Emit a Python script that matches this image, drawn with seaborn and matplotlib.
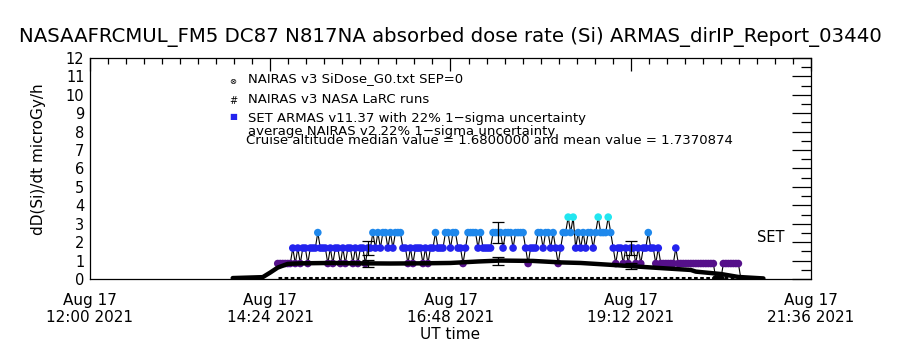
import numpy as np
import pandas as pd
import matplotlib
matplotlib.use("Agg")
import matplotlib.pyplot as plt
import matplotlib.dates as mdates
from matplotlib.ticker import FixedLocator, FuncFormatter, MultipleLocator
import seaborn as sns

DAY = "2021-08-17"

# NAIRAS v3 SiDose_G0 model dose rate along the flight track (microGy/h)
nairas_time = ["13:54", "14:18", "14:24", "14:30", "14:38", "14:48", "15:12", "15:36",
               "16:00", "16:24", "16:48", "17:10", "17:28", "17:54", "18:16", "18:32",
               "18:58", "19:16", "19:34", "20:00", "20:04", "20:24", "20:38", "20:58"]
nairas_dose = [0.05, 0.10, 0.35, 0.62, 0.82, 0.85, 0.87, 0.85,
               0.84, 0.85, 0.87, 0.95, 1.00, 0.98, 0.90, 0.87,
               0.76, 0.68, 0.60, 0.49, 0.40, 0.27, 0.11, 0.03]

# NAIRAS v3 NASA LaRC runs
larc_time = ["14:30", "15:30", "16:30", "17:30", "18:30", "19:30", "20:30", "20:58"]
larc_dose = [0.04, 0.04, 0.04, 0.04, 0.04, 0.04, 0.04, 0.04]

# SET ARMAS v11.37 absorbed dose rate, one record every 2 minutes from 14:30
armas_start = "14:30"
armas_step_min = 2
armas_dose = [
    0.84, 0.84, 0.84, 0.84, 0.84, 0.84, 1.68, 0.84, 1.68, 0.84,
    1.68, 1.68, 0.84, 1.68, 1.68, 1.68, 2.52, 1.68, 1.68, 1.68,
    0.84, 1.68, 0.84, 1.68, 1.68, 0.84, 1.68, 0.84, 1.68, 1.68,
    0.84, 1.68, 0.84, 1.68, 1.68, 0.84, 1.68, 1.68, 2.52, 1.68,
    2.52, 1.68, 2.52, 2.52, 1.68, 2.52, 1.68, 2.52, 2.52, 2.52,
    1.68, 1.68, 0.84, 1.68, 0.84, 1.68, 1.68, 1.68, 0.84, 1.68,
    0.84, 1.68, 1.68, 2.52, 1.68, 1.68, 1.68, 2.52, 2.52, 1.68,
    2.52, 2.52, 1.68, 1.68, 0.84, 1.68, 2.52, 2.52, 2.52, 2.52,
    1.68, 2.52, 1.68, 1.68, 1.68, 1.68, 2.52, 2.52, 2.52, 2.52,
    1.68, 2.52, 2.52, 2.52, 1.68, 2.52, 2.52, 2.52, 2.52, 1.68,
    0.84, 1.68, 1.68, 1.68, 2.52, 2.52, 1.68, 2.52, 2.52, 1.68,
    2.52, 1.68, 0.84, 1.68, 2.52, 2.52, 3.36, 2.52, 3.36, 1.68,
    2.52, 1.68, 2.52, 1.68, 2.52, 2.52, 1.68, 2.52, 3.36, 2.52,
    2.52, 2.52, 3.36, 2.52, 1.68, 0.84, 1.68, 1.68, 0.84, 1.68,
    0.84, 1.68, 1.68, 0.84, 1.68, 0.84, 1.68, 1.68, 2.52, 1.68,
    1.68, 0.84, 1.68, 0.84, 0.84, 0.84, 0.84, 0.84, 0.84, 1.68,
    0.84, 0.84, 0.84, 0.84, 0.84, 0.84, 0.84, 0.84, 0.84, 0.84,
    0.84, 0.84, 0.84, 0.84, 0.84, 0.00, 0.00, 0.00, 0.84, 0.84,
    0.84, 0.84, 0.84, 0.84, 0.84, 0.00,
]

# 1-sigma uncertainty markers (22 %)
err_time = ["15:42", "17:26", "19:12"]
err_armas = [1.68, 2.52, 1.68]
err_nairas = [0.85, 1.00, 0.70]
rel_sigma = 0.22

level_name = {0.00: "0", 0.84: "1", 1.68: "2", 2.52: "3", 3.36: "4"}
level_color = {"0": "#000000", "1": "#55108a", "2": "#2323ee",
               "3": "#1e88ec", "4": "#22e6f0"}

x_start = pd.Timestamp(f"{DAY} 12:00")
x_major_step = pd.Timedelta(minutes=144)


def stamp(hm):
    return pd.Timestamp(f"{DAY} {hm}")


nairas = pd.DataFrame({"time": [stamp(t) for t in nairas_time], "dose": nairas_dose})
larc = pd.DataFrame({"time": [stamp(t) for t in larc_time], "dose": larc_dose})
armas = pd.DataFrame({
    "time": pd.date_range(stamp(armas_start), periods=len(armas_dose),
                          freq=f"{armas_step_min}min"),
    "dose": armas_dose,
})
armas["level"] = armas["dose"].round(2).map(level_name)

sns.set_theme(style="white")
plt.rcParams["font.family"] = ["DejaVu Sans"]

fig = plt.figure(figsize=(9, 3.5), dpi=100)
ax = fig.add_axes([0.1, 0.2029, 0.8011, 0.6314])

# ARMAS record: thin black connecting line, coloured dots by count level
sns.lineplot(data=armas, x="time", y="dose", color="black", lw=0.8,
             estimator=None, sort=False, ax=ax, zorder=2)
sns.scatterplot(data=armas, x="time", y="dose", hue="level", palette=level_color,
                s=30, edgecolor="none", legend=False, ax=ax, zorder=3)

# NAIRAS model curves
sns.lineplot(data=nairas, x="time", y="dose", color="black", lw=3.2,
             estimator=None, ax=ax, zorder=4)
ax.plot(larc["time"], larc["dose"], color="black", lw=2.2,
        linestyle=(0, (1.2, 0.8)), zorder=4)

# uncertainty bars
et = [stamp(t) for t in err_time]
ax.errorbar(et, err_armas, yerr=[v * rel_sigma for v in err_armas], fmt="none",
            ecolor="black", elinewidth=0.9, capsize=4, capthick=0.9, zorder=5)
ax.errorbar(et, err_nairas, yerr=[v * rel_sigma for v in err_nairas], fmt="none",
            ecolor="black", elinewidth=0.9, capsize=4, capthick=0.9, zorder=5)

# axes ranges and ticks
ax.set_xlim(x_start, x_start + 4 * x_major_step)
ax.set_ylim(0, 12)
major_x = [mdates.date2num(x_start + k * x_major_step) for k in range(5)]
minor_x = [mdates.date2num(x_start + k * x_major_step / 10) for k in range(41)]
ax.xaxis.set_major_locator(FixedLocator(major_x))
ax.xaxis.set_minor_locator(FixedLocator(minor_x))
ax.xaxis.set_major_formatter(FuncFormatter(
    lambda v, p: mdates.num2date(v).strftime("%b %d\n%H:%M %Y")))
ax.yaxis.set_major_locator(MultipleLocator(1))
ax.yaxis.set_minor_locator(MultipleLocator(0.5))

ax.tick_params(which="both", direction="in", top=True, right=True,
               color="black", width=0.9, labelsize=10.5, labelcolor="black")
ax.tick_params(axis="x", which="major", length=9, pad=10, labelsize=11)
ax.tick_params(axis="x", which="minor", length=4.5)
ax.tick_params(axis="y", which="major", length=14, pad=4)
ax.tick_params(axis="y", which="minor", length=7)
for s in ax.spines.values():
    s.set_color("black")
    s.set_linewidth(0.9)

ax.set_xlabel("UT time", fontsize=11, color="black", labelpad=1)
ax.set_ylabel("dD(Si)/dt microGy/h", fontsize=11, color="black")
ax.yaxis.set_label_coords(-0.061, 0.54)

fig.text(0.5, 1 - 37 / 350,
         "NASAAFRCMUL_FM5 DC87 N817NA absorbed dose rate (Si) ARMAS_dirIP_Report_03440",
         ha="center", va="center", fontsize=14.25, color="black")

# key
fig.text(233 / 900, 1 - 81 / 350, "\u2297", fontsize=6, ha="center", va="center", color="black")
fig.text(233 / 900, 1 - 101 / 350, "#", fontsize=7, ha="center", va="center", color="black")
fig.text(233 / 900, 1 - 117 / 350, "\u25a0", fontsize=6, ha="center", va="center",
         color=level_color["2"])
key_lines = [
    (248, 79, "NAIRAS v3 SiDose_G0.txt SEP=0"),
    (248, 99, "NAIRAS v3 NASA LaRC runs"),
    (248, 118, "SET ARMAS v11.37 with 22% 1\u2212sigma uncertainty"),
    (248, 131, "average NAIRAS v2 22% 1\u2212sigma uncertainty"),
    (246, 141, "Cruise altitude median value = 1.6800000 and mean value = 1.7370874"),
]
for x, y, t in key_lines:
    fig.text(x / 900, 1 - y / 350, t, fontsize=9.5, ha="left", va="center", color="black")

fig.text(757 / 900, 1 - 238 / 350, "SET", fontsize=10.5, ha="left", va="center",
         color="black")

fig.savefig("out.png", dpi=100, facecolor="white")
